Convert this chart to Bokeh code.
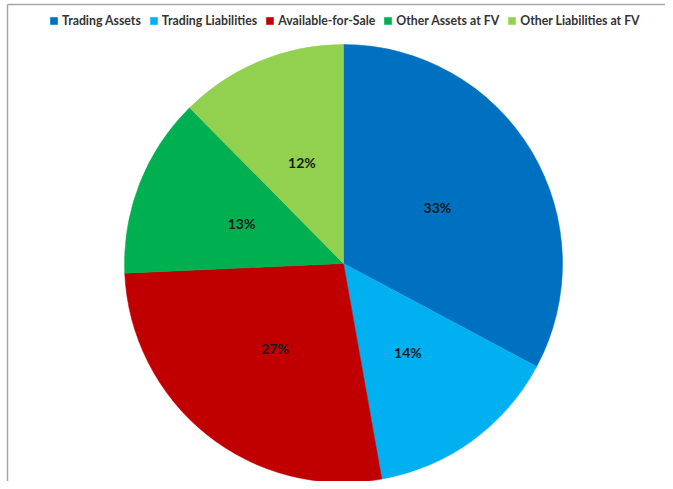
import math
from bokeh.plotting import figure
from bokeh.models import ColumnDataSource, Range1d, Legend, LegendItem
from bokeh.embed import file_html
from bokeh.resources import INLINE

categories = ["Trading Assets", "Trading Liabilities", "Available-for-Sale",
              "Other Assets at FV", "Other Liabilities at FV"]
shares = [32.8, 14.4, 27.1, 13.3, 12.4]
colors = ["#0070C0", "#00B0F0", "#C00000", "#00B050", "#92D050"]

W, H = 665, 481
p = figure(width=W, height=H, output_backend="svg", toolbar_location=None,
           x_range=Range1d(0, W), y_range=Range1d(0, H), min_border=0,
           outline_line_color=None, background_fill_color="white",
           border_fill_color="white")
p.axis.visible = False
p.grid.visible = False

cx, cy, r = 343, H - 263, 219
total = sum(shares)
starts, ends, lx, ly, texts = [], [], [], [], []
cum = 0.0
for s in shares:
    a0 = math.pi / 2 - cum / total * 2 * math.pi
    cum += s
    a1 = math.pi / 2 - cum / total * 2 * math.pi
    starts.append(a0)
    ends.append(a1)
    mid = (a0 + a1) / 2
    lx.append(cx + 0.5 * r * math.cos(mid))
    ly.append(cy + 0.5 * r * math.sin(mid))
    texts.append(f"{round(s / total * 100)}%")

# chart-area frame (top and left edges visible)
p.line(x=[7, W], y=[H - 4, H - 4], line_color="#a6a6a6", line_width=1.5)
p.line(x=[7, 7], y=[0, H - 4], line_color="#a6a6a6", line_width=1.5)

items = []
for i, c in enumerate(categories):
    rr = p.wedge(x=cx, y=cy, radius=r, start_angle=starts[i], end_angle=ends[i],
                 direction="clock", fill_color=colors[i], line_color=colors[i],
                 line_width=0.5)
    items.append(LegendItem(label=c, renderers=[rr]))

src = ColumnDataSource(dict(x=lx, y=ly, t=texts))
p.text(x="x", y="y", text="t", source=src, text_align="center",
       text_baseline="middle", text_font_size="14px", text_font_style="bold",
       text_font={"value": "Lato"}, text_color="#1a1a1a")

legend = Legend(items=items, orientation="horizontal", location=(49, H - 28),
                glyph_width=9, glyph_height=9, label_standoff=4, spacing=8,
                padding=0, margin=0, label_height=12,
                label_text_font="Lato", label_text_font_style="bold",
                label_text_font_size="12.3px", label_text_color="#333333",
                border_line_color=None, background_fill_alpha=0)
p.add_layout(legend, "center")

open("out.html", "w").write(file_html(p, INLINE))
